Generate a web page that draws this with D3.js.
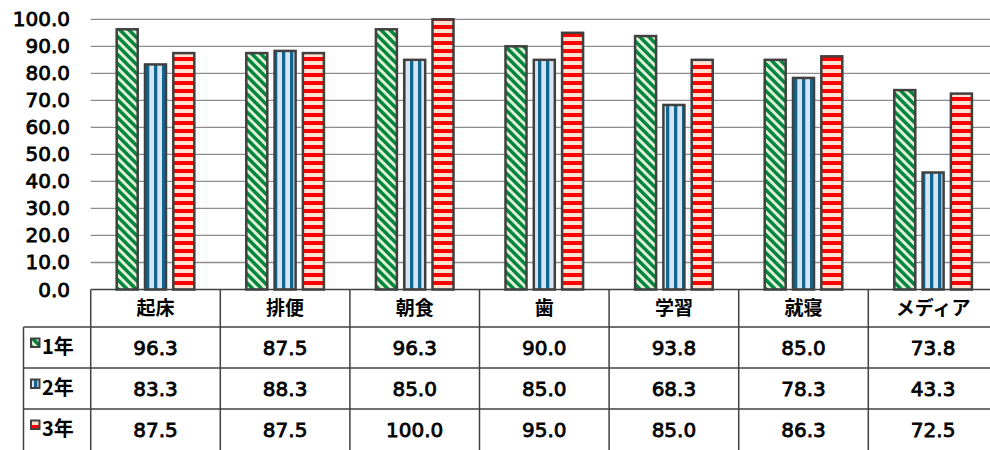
<!DOCTYPE html>
<html>
<head>
<meta charset="utf-8">
<script src="https://cdn.jsdelivr.net/npm/d3@7"></script>
<style>
  body { margin: 0; background: #fff; }
  svg { display: block; }
  text { font-family: "DejaVu Sans", "Noto Sans CJK JP", sans-serif; fill: #000; }
  .num { stroke: #000; stroke-width: 0.8px; }
  .jp { font-family: "Noto Sans CJK JP", sans-serif; }
</style>
</head>
<body>
<svg id="chart"></svg>
<script>
// data
const categories = ["起床", "排便", "朝食", "歯", "学習", "就寝", "メディア"];
const seriesNames = ["1年", "2年", "3年"];
const year1 = [96.3, 87.5, 96.3, 90.0, 93.8, 85.0, 73.8];
const year2 = [83.3, 88.3, 85.0, 85.0, 68.3, 78.3, 43.3];
const year3 = [87.5, 87.5, 100.0, 95.0, 85.0, 86.3, 72.5];
const yTicks = [0, 10, 20, 30, 40, 50, 60, 70, 80, 90, 100];

const seriesValues = [year1, year2, year3];
const patternIds = ["pat1", "pat2", "pat3"];

const width = 990;
const height = 450;
const gridColor = "#8c8c8c";
const lineColor = "#404040";

const svg = d3.select("#chart")
    .attr("width", width)
    .attr("height", height);

const plotLeft = 90.7;
const plotTop = 19.3;
const plotBottom = 289.5;
const tableLeft = 23.5;
const headerBottom = 327;

//scales
const yScale = d3.scaleLinear()
    .domain([0, 100])
    .range([plotBottom, plotTop]);

const xScale = d3.scaleBand()
    .domain(categories)
    .range([plotLeft, plotLeft + 129.6 * categories.length]);

const xInner = d3.scaleBand()
    .domain(seriesNames)
    .range([0, xScale.bandwidth()])
    .paddingInner(0.187)
    .paddingOuter(0.883);

const rowScale = d3.scaleBand()
    .domain(seriesNames)
    .range([headerBottom, 450]);

//patterns
const defs = svg.append("defs");

const p1 = defs.append("pattern")
    .attr("id", "pat1")
    .attr("patternUnits", "userSpaceOnUse")
    .attr("width", 9).attr("height", 9);
p1.append("rect").attr("width", 9).attr("height", 9).attr("fill", "#e2f0d9");
p1.append("path")
    .attr("d", "M-1,-1 L10,10 M-5,4 L5,14 M4,-5 L14,5")
    .attr("stroke", "#00873c")
    .attr("stroke-width", 3.4);

const p2 = defs.append("pattern")
    .attr("id", "pat2")
    .attr("patternUnits", "userSpaceOnUse")
    .attr("width", 8).attr("height", 8);
p2.append("rect").attr("width", 8).attr("height", 8).attr("fill", "#d6e6f4");
p2.append("rect").attr("x", 2).attr("width", 3.3).attr("height", 8).attr("fill", "#136690");

const p3 = defs.append("pattern")
    .attr("id", "pat3")
    .attr("patternUnits", "userSpaceOnUse")
    .attr("width", 8).attr("height", 8);
p3.append("rect").attr("width", 8).attr("height", 8).attr("fill", "#fce0d0");
p3.append("rect").attr("y", 1).attr("width", 8).attr("height", 4).attr("fill", "#ff0000");

//gridlines
svg.append("g")
    .selectAll("line")
    .data(yTicks.filter(d => d > 0))
    .enter()
    .append("line")
    .attr("x1", plotLeft)
    .attr("x2", width)
    .attr("y1", d => yScale(d))
    .attr("y2", d => yScale(d))
    .style("stroke", gridColor)
    .style("stroke-width", 1.3);

//y labels
svg.append("g")
    .selectAll("text")
    .data(yTicks)
    .enter()
    .append("text")
    .attr("class", "num")
    .attr("x", 70)
    .attr("y", d => yScale(d) + 7)
    .attr("text-anchor", "end")
    .style("font-size", "20px")
    .text(d => d.toFixed(1));

//bars
seriesNames.forEach((s, si) => {
    svg.append("g")
        .selectAll("rect")
        .data(categories.map((c, ci) => ({cat: c, value: seriesValues[si][ci]})))
        .enter()
        .append("rect")
        .attr("x", d => xScale(d.cat) + xInner(s) + 1)
        .attr("width", xInner.bandwidth() - 2)
        .attr("y", d => yScale(d.value))
        .attr("height", d => plotBottom - yScale(d.value))
        .style("fill", `url(#${patternIds[si]})`)
        .style("stroke", lineColor)
        .style("stroke-width", 2.5);
});

//table
const table = svg.append("g");

table.append("line")
    .attr("x1", plotLeft).attr("x2", width)
    .attr("y1", plotBottom).attr("y2", plotBottom)
    .style("stroke", lineColor).style("stroke-width", 1.5);

[headerBottom, ...seriesNames.slice(1).map(s => rowScale(s))].forEach(y => {
    table.append("line")
        .attr("x1", tableLeft).attr("x2", width)
        .attr("y1", y).attr("y2", y)
        .style("stroke", lineColor).style("stroke-width", 1.5);
});

table.append("line")
    .attr("x1", tableLeft).attr("x2", tableLeft)
    .attr("y1", headerBottom).attr("y2", height)
    .style("stroke", lineColor).style("stroke-width", 1.5);

categories.forEach(c => {
    table.append("line")
        .attr("x1", xScale(c)).attr("x2", xScale(c))
        .attr("y1", plotBottom).attr("y2", height)
        .style("stroke", lineColor).style("stroke-width", 1.5);
});

//column labels
table.selectAll(".col-label")
    .data(categories)
    .enter()
    .append("text")
    .attr("class", "col-label jp")
    .attr("x", d => xScale(d) + xScale.bandwidth() / 2)
    .attr("y", (plotBottom + headerBottom) / 2 + 7)
    .attr("text-anchor", "middle")
    .style("font-size", "19px")
    .style("font-weight", "bold")
    .text(d => d);

//rows
seriesNames.forEach((s, si) => {
    const yMid = rowScale(s) + rowScale.bandwidth() / 2;

    table.append("rect")
        .attr("x", 31)
        .attr("y", yMid - 9)
        .attr("width", 8.5)
        .attr("height", 8.5)
        .style("fill", `url(#${patternIds[si]})`)
        .style("stroke", lineColor)
        .style("stroke-width", 2);

    table.append("text")
        .attr("class", "jp")
        .attr("x", 42)
        .attr("y", yMid + 6)
        .style("font-size", "20px")
        .style("font-weight", "bold")
        .text(s);

    table.append("g")
        .selectAll("text")
        .data(categories.map((c, ci) => ({cat: c, value: seriesValues[si][ci]})))
        .enter()
        .append("text")
        .attr("class", "num")
        .attr("x", d => xScale(d.cat) + xScale.bandwidth() / 2)
        .attr("y", yMid + 7)
        .attr("text-anchor", "middle")
        .style("font-size", "20px")
        .text(d => d.value.toFixed(1));
});
</script>
</body>
</html>
